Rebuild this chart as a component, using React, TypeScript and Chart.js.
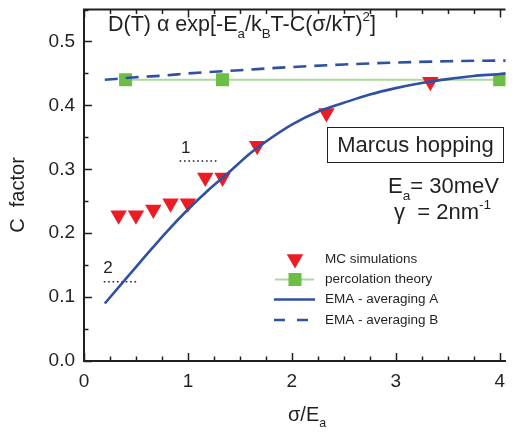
import React, { useEffect, useRef } from 'react';
import { Chart, registerables } from 'chart.js';

Chart.register(...registerables);

// Axis ticks
const xTicks = [0, 1, 2, 3, 4];
const yTicks = [0, 0.1, 0.2, 0.3, 0.4, 0.5];

// Monte Carlo simulations (sigma / Ea, C)
const mcX = [0.333, 0.5, 0.667, 0.833, 1.0, 1.167, 1.333, 1.667, 2.333, 3.333];
const mcY = [0.228, 0.228, 0.237, 0.247, 0.247, 0.287, 0.287, 0.337, 0.388, 0.437];

// Percolation theory
const percX = [0.4, 1.333, 4.0];
const percY = [0.44, 0.44, 0.44];

// EMA, averaging A
const emaAX = [0.2, 0.4, 0.6, 0.8, 1.0, 1.2, 1.4, 1.6, 1.8, 2.0, 2.25, 2.5, 2.75, 3.0, 3.25, 3.5, 3.75, 4.0, 4.06];
const emaAY = [0.09, 0.128, 0.166, 0.203, 0.237, 0.268, 0.296, 0.325, 0.349, 0.37, 0.39, 0.404, 0.417, 0.427, 0.435, 0.441, 0.446, 0.449, 0.45];

// EMA, averaging B
const emaBX = [0.2, 0.5, 0.8, 1.0, 1.5, 2.0, 2.5, 3.0, 3.5, 4.0, 4.06];
const emaBY = [0.44, 0.444, 0.447, 0.45, 0.455, 0.46, 0.464, 0.467, 0.469, 0.47, 0.47];

// Dotted reference levels with their labels
const ref1X = [0.92, 1.295];
const ref1Y = [0.313, 0.313];
const ref2X = [0.19, 0.52];
const ref2Y = [0.124, 0.124];
const refLabels = ['1', '2'];
const refLabelX = [0.98, 0.23];
const refLabelY = [0.333, 0.145];

const legendLabels = ['MC simulations', 'percolation theory', 'EMA - averaging A', 'EMA - averaging B'];

const FONT = '"Liberation Sans", Arial, Helvetica, sans-serif';
const INK = '#231f20';
const RED = '#ed1c24';
const GREEN = '#6cbf45';
const GREEN_LINE = '#a9d99b';
const BLUE = '#3050a2';

const pts = (xs: number[], ys: number[]) => xs.map((x, i) => ({ x, y: ys[i] }));

type Seg = { t: string; k?: 'sub' | 'sup' };

function drawRich(ctx: CanvasRenderingContext2D, segs: Seg[], x: number, y: number, size: number) {
  let cx = x;
  ctx.textBaseline = 'alphabetic';
  ctx.textAlign = 'left';
  for (const s of segs) {
    const fs = s.k ? size * 0.62 : size;
    ctx.font = `${fs}px ${FONT}`;
    const dy = s.k === 'sub' ? size * 0.32 : s.k === 'sup' ? -size * 0.45 : 0;
    ctx.fillText(s.t, cx, y + dy);
    cx += ctx.measureText(s.t).width;
  }
}

const decorPlugin = {
  id: 'decor',
  afterDatasetsDraw(chart: any) {
    const { ctx, chartArea, scales } = chart;
    const xs = scales.x;
    const ys = scales.y;
    ctx.save();
    ctx.strokeStyle = INK;
    ctx.fillStyle = INK;

    // top frame line
    ctx.lineWidth = 2;
    ctx.beginPath();
    ctx.moveTo(chartArea.left - 1, chartArea.top);
    ctx.lineTo(chartArea.right, chartArea.top);
    ctx.stroke();

    // inward tick marks
    ctx.lineWidth = 1.5;
    for (let i = 0; i <= 16; i++) {
      const v = i * 0.25;
      const px = Math.round(xs.getPixelForValue(v)) + 0.5;
      const len = i % 4 === 0 ? 8 : 4.5;
      ctx.beginPath();
      ctx.moveTo(px, chartArea.bottom);
      ctx.lineTo(px, chartArea.bottom - len);
      ctx.moveTo(px, chartArea.top);
      ctx.lineTo(px, chartArea.top + len);
      ctx.stroke();
    }
    for (let i = 0; i <= 11; i++) {
      const v = i * 0.05;
      const py = Math.round(ys.getPixelForValue(v)) + 0.5;
      const len = i % 2 === 0 ? 8 : 4.5;
      ctx.beginPath();
      ctx.moveTo(chartArea.left, py);
      ctx.lineTo(chartArea.left + len, py);
      ctx.stroke();
    }

    // reference level labels
    ctx.font = `17px ${FONT}`;
    ctx.textAlign = 'center';
    ctx.textBaseline = 'middle';
    refLabels.forEach((t, i) => {
      ctx.fillText(t, xs.getPixelForValue(refLabelX[i]), ys.getPixelForValue(refLabelY[i]));
    });

    // formula
    drawRich(ctx, [
      { t: 'D(T) ' }, { t: 'α' }, { t: ' exp[-E' }, { t: 'a', k: 'sub' }, { t: '/k' }, { t: 'B', k: 'sub' },
      { t: 'T-C(σ/kT)' }, { t: '2', k: 'sup' }, { t: ']' },
    ], 108, 31, 21.5);

    // model box
    ctx.lineWidth = 1;
    ctx.strokeRect(327.5, 127.5, 176, 35);
    ctx.font = `22px ${FONT}`;
    ctx.textAlign = 'center';
    ctx.textBaseline = 'middle';
    ctx.fillText('Marcus hopping', 415.5, 146);

    drawRich(ctx, [{ t: 'E' }, { t: 'a', k: 'sub' }, { t: '= 30meV' }], 388, 193, 22);
    drawRich(ctx, [{ t: 'γ' }, { t: '  = 2nm' }, { t: '-1', k: 'sup' }], 394, 219, 22);

    // axis titles
    drawRich(ctx, [{ t: 'σ/E' }, { t: 'a', k: 'sub' }], 288, 421, 20);
    ctx.save();
    ctx.translate(18, 195);
    ctx.rotate(-Math.PI / 2);
    ctx.font = `20px ${FONT}`;
    ctx.textAlign = 'center';
    ctx.textBaseline = 'middle';
    ctx.fillText('C  factor', 0, 0);
    ctx.restore();

    // legend
    const rows = [259, 279.5, 299.5, 320];
    const sx = 295;
    ctx.textAlign = 'left';
    ctx.textBaseline = 'middle';
    ctx.font = `13.5px ${FONT}`;
    legendLabels.forEach((t, i) => ctx.fillText(t, 325, rows[i]));

    // MC symbol
    ctx.fillStyle = RED;
    {
      const r = 9.5;
      const cy = rows[0];
      ctx.beginPath();
      ctx.moveTo(sx, cy + r);
      ctx.lineTo(sx - r * 0.866, cy - r / 2);
      ctx.lineTo(sx + r * 0.866, cy - r / 2);
      ctx.closePath();
      ctx.fill();
    }
    // percolation symbol
    ctx.strokeStyle = GREEN_LINE;
    ctx.lineWidth = 2;
    ctx.beginPath();
    ctx.moveTo(275, rows[1]);
    ctx.lineTo(314, rows[1]);
    ctx.stroke();
    ctx.fillStyle = GREEN;
    ctx.fillRect(sx - 6.5, rows[1] - 6.5, 13, 13);
    // EMA A
    ctx.strokeStyle = BLUE;
    ctx.lineWidth = 2.5;
    ctx.beginPath();
    ctx.moveTo(274, rows[2]);
    ctx.lineTo(315, rows[2]);
    ctx.stroke();
    // EMA B
    ctx.setLineDash([11, 12]);
    ctx.beginPath();
    ctx.moveTo(274, rows[3]);
    ctx.lineTo(310, rows[3]);
    ctx.stroke();
    ctx.setLineDash([]);

    ctx.restore();
  },
};

export default function App() {
  const ref = useRef<HTMLCanvasElement | null>(null);

  useEffect(() => {
    if (!ref.current) return;
    const chart = new Chart(ref.current, {
      type: 'scatter',
      data: {
        datasets: [
          {
            label: 'ref1',
            data: pts(ref1X, ref1Y),
            showLine: true,
            borderColor: INK,
            borderWidth: 1.5,
            borderDash: [1.6, 2.8],
            pointRadius: 0,
            order: 6,
          },
          {
            label: 'ref2',
            data: pts(ref2X, ref2Y),
            showLine: true,
            borderColor: INK,
            borderWidth: 1.5,
            borderDash: [1.6, 2.8],
            pointRadius: 0,
            order: 6,
          },
          {
            label: legendLabels[0],
            data: pts(mcX, mcY),
            pointStyle: 'triangle',
            rotation: 180,
            pointRadius: 9.5,
            pointBackgroundColor: RED,
            pointBorderWidth: 0,
            borderColor: RED,
            showLine: false,
            order: 4,
          },
          {
            label: legendLabels[1],
            data: pts(percX, percY),
            pointStyle: 'rect',
            pointRadius: 9.2,
            pointBackgroundColor: GREEN,
            pointBorderWidth: 0,
            borderColor: GREEN_LINE,
            borderWidth: 2,
            showLine: true,
            order: 5,
          },
          {
            label: legendLabels[2],
            data: pts(emaAX, emaAY),
            showLine: true,
            borderColor: BLUE,
            borderWidth: 2.6,
            pointRadius: 0,
            cubicInterpolationMode: 'monotone',
            order: 2,
          },
          {
            label: legendLabels[3],
            data: pts(emaBX, emaBY),
            showLine: true,
            borderColor: BLUE,
            borderWidth: 2.6,
            borderDash: [13, 8],
            pointRadius: 0,
            cubicInterpolationMode: 'monotone',
            order: 1,
          },
        ],
      },
      options: {
        responsive: false,
        animation: false,
        devicePixelRatio: 1,
        layout: { padding: { top: 5, right: 0, left: 0, bottom: 0 } },
        plugins: {
          legend: { display: false },
          tooltip: { enabled: false },
        },
        scales: {
          x: {
            type: 'linear',
            min: 0,
            max: 4.056,
            afterFit: (s: any) => { s.height = 74; s.paddingLeft = 0; s.paddingRight = 0; },
            afterBuildTicks: (s: any) => { s.ticks = xTicks.map((v) => ({ value: v })); },
            grid: { display: false, drawTicks: false },
            border: { display: true, color: INK, width: 2 },
            ticks: {
              color: INK,
              font: { family: FONT, size: 19 },
              padding: 9,
              maxRotation: 0,
              callback: (v: any) => String(v),
            },
          },
          y: {
            type: 'linear',
            min: 0,
            max: 0.55,
            afterFit: (s: any) => { s.width = 84; s.paddingTop = 0; s.paddingBottom = 0; },
            afterBuildTicks: (s: any) => { s.ticks = yTicks.map((v) => ({ value: v })); },
            grid: { display: false, drawTicks: false },
            border: { display: true, color: INK, width: 2 },
            ticks: {
              color: INK,
              font: { family: FONT, size: 19 },
              padding: 9,
              callback: (v: any) => Number(v).toFixed(1),
            },
          },
        },
      },
      plugins: [decorPlugin],
    } as any);
    return () => chart.destroy();
  }, []);

  return (
    <div style={{ position: 'absolute', left: 0, top: 0, width: 515, height: 435, background: '#fff' }}>
      <canvas ref={ref} width={515} height={435} style={{ display: 'block' }} />
    </div>
  );
}
